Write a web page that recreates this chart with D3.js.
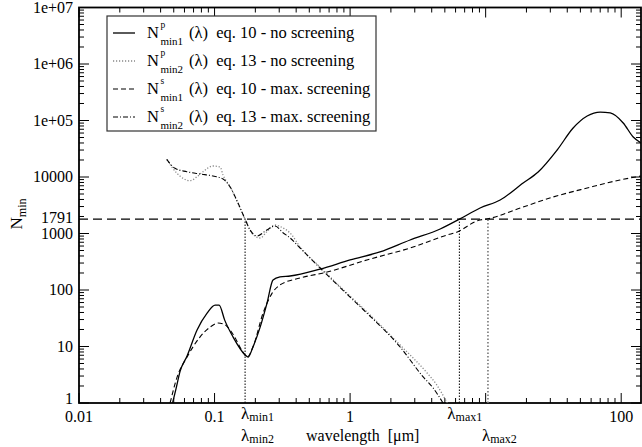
<!DOCTYPE html>
<html>
<head>
<meta charset="utf-8">
<script src="https://cdn.jsdelivr.net/npm/d3@7"></script>
<style>
  body { margin: 0; background: #fff; }
</style>
</head>
<body>
<script>
// wavelength in micrometres, N_min values
const npMin1Lambda = [0.049, 0.052, 0.0556, 0.0627, 0.0743, 0.0881, 0.101, 0.108, 0.119, 0.137, 0.168, 0.177, 0.192, 0.217, 0.244, 0.270, 0.304, 0.361, 0.60, 1.0, 1.66, 2.77, 4.62, 6.4, 9.1, 12.8, 18.9, 24.4, 33.7, 44.2, 56.1, 70, 83, 103.5, 122.7, 140];
const npMin1 = [1, 1.8, 3.6, 6.8, 19.6, 39, 54, 54, 29, 14.7, 7.1, 6.5, 9.8, 22, 59, 150, 170, 177, 235, 340, 471, 767, 1202, 1791, 2826, 3917, 7830, 12250, 30050, 73600, 120000, 141000, 136000, 90300, 51000, 40000];

const npMin2Lambda = [0.0444, 0.0526, 0.0659, 0.0739, 0.0822, 0.0975, 0.110, 0.1155, 0.130, 0.168, 0.188, 0.217, 0.243, 0.279, 0.320, 0.361, 0.428, 0.621, 1.0, 1.33, 2.34, 3.70, 4.31, 4.70, 5.20];
const npMin2 = [20570, 11770, 8600, 10000, 12410, 15660, 15030, 10840, 6730, 1791, 1020, 832, 1076, 1413, 1251, 1020, 577, 235, 78, 41, 10.6, 3.4, 2.17, 1.56, 1];

const nsMin1Lambda = [0.047, 0.053, 0.0627, 0.078, 0.0926, 0.106, 0.117, 0.135, 0.162, 0.174, 0.192, 0.228, 0.266, 0.304, 0.428, 0.677, 1.33, 2.77, 5.2, 6.17, 8.8, 10.4, 18, 31.5, 56.1, 98, 140];
const nsMin1 = [1, 2.9, 6.5, 14.7, 22, 26, 25, 17.3, 8, 6.5, 9.8, 39, 88, 123, 163, 208, 340, 554, 940, 1063, 1700, 1820, 2826, 4430, 6390, 8850, 10400];

const nsMin2Lambda = [0.0444, 0.0511, 0.0624, 0.0782, 0.0975, 0.1155, 0.130, 0.149, 0.168, 0.183, 0.205, 0.243, 0.279, 0.320, 0.361, 0.428, 0.621, 1.0, 1.33, 2.34, 3.46, 4.10, 4.85];
const nsMin2 = [20570, 14260, 12410, 11300, 10420, 9220, 6730, 3467, 1791, 1153, 903, 1153, 1358, 1033, 832, 554, 226, 75, 39, 9.8, 2.9, 1.84, 1];

const nRef = 1791;
const lambdaMin = 0.168;
const lambdaMax1 = 6.4;
const lambdaMax2 = 10.4;

const xTickValues = [0.01, 0.1, 1, 100];
const yTickValues = [1, 10, 100, 1000, 10000, 1e5, 1e6, 1e7];
const yTickLabels = ['1', '10', '100', '1000', '10000', '1e+05', '1e+06', '1e+07'];

const legendEq = ['eq. 10 - no screening', 'eq. 13 - no screening', 'eq. 10 - max. screening', 'eq. 13 - max. screening'];
const legendSup = ['p', 'p', 's', 's'];
const legendSub = ['min1', 'min2', 'min1', 'min2'];

const width = 642, height = 447;
const plotLeft = 79, plotRight = 641, plotTop = 7.5, plotBottom = 403;
const serif = "'Liberation Serif', 'Times New Roman', Times, 'DejaVu Serif', serif";

const svg = d3.select('body').append('svg')
  .attr('width', width)
  .attr('height', height)
  .attr('font-family', serif);

const x = d3.scaleLog().domain([0.01, 140]).range([plotLeft, plotRight]);
const y = d3.scaleLog().domain([1, 1e7]).range([plotBottom, plotTop]);

svg.append('clipPath').attr('id', 'plot')
  .append('rect')
  .attr('x', plotLeft).attr('y', plotTop)
  .attr('width', plotRight - plotLeft).attr('height', plotBottom - plotTop);

// minor / major ticks on all four sides
const xMinor = [];
for (let e = -2; e <= 2; e++) {
  for (let m = 2; m <= 9; m++) {
    const v = m * Math.pow(10, e);
    if (v <= 140) xMinor.push(v);
  }
}
const xMajor = [0.01, 0.1, 1, 10, 100];
const yMinor = [];
for (let e = 0; e < 7; e++) {
  for (let m = 2; m <= 9; m++) yMinor.push(m * Math.pow(10, e));
}

const ticks = svg.append('g').attr('stroke', '#000').attr('stroke-width', 1);
xMajor.concat(xMinor).forEach((v) => {
  const len = xMajor.includes(v) ? 10 : 5;
  ticks.append('line').attr('x1', x(v)).attr('x2', x(v)).attr('y1', plotBottom).attr('y2', plotBottom - len);
  ticks.append('line').attr('x1', x(v)).attr('x2', x(v)).attr('y1', plotTop).attr('y2', plotTop + len);
});
yTickValues.concat(yMinor).forEach((v) => {
  const len = yTickValues.includes(v) ? 10 : 5;
  ticks.append('line').attr('y1', y(v)).attr('y2', y(v)).attr('x1', plotLeft).attr('x2', plotLeft + len);
  ticks.append('line').attr('y1', y(v)).attr('y2', y(v)).attr('x1', plotRight).attr('x2', plotRight - len);
});

// frame
svg.append('rect')
  .attr('x', plotLeft).attr('y', plotTop)
  .attr('width', plotRight - plotLeft).attr('height', plotBottom - plotTop)
  .attr('fill', 'none').attr('stroke', '#000').attr('stroke-width', 1.8);

// tick labels
svg.append('g').selectAll('text')
  .data(xTickValues)
  .enter().append('text')
  .attr('x', d => x(d))
  .attr('y', plotBottom + 19)
  .attr('text-anchor', 'middle')
  .attr('font-size', 16)
  .text(d => String(d));

// the lowest label sits a little higher, as in the original
svg.append('g').selectAll('text')
  .data(yTickValues)
  .enter().append('text')
  .attr('x', plotLeft - 6)
  .attr('y', d => y(d) + (d === 1 ? 1 : 5))
  .attr('text-anchor', 'end')
  .attr('font-size', 16)
  .text((d, i) => yTickLabels[i]);

svg.append('text')
  .attr('x', plotLeft - 6)
  .attr('y', y(nRef) + 4)
  .attr('text-anchor', 'end')
  .attr('font-size', 16)
  .text(String(nRef));

// axis titles
const yTitle = svg.append('text')
  .attr('transform', 'translate(22,' + 214 + ') rotate(-90)')
  .attr('text-anchor', 'middle')
  .attr('font-size', 17);
yTitle.append('tspan').text('N');
yTitle.append('tspan').attr('font-size', 12).attr('dy', 4).text('min');

svg.append('text')
  .attr('x', 306)
  .attr('y', 441)
  .attr('font-size', 16)
  .attr('xml:space', 'preserve')
  .text('wavelength  [\u03bcm]');

// lambda labels under the axis
function lambdaLabel(px, py, sub) {
  const t = svg.append('text').attr('x', px).attr('y', py).attr('font-size', 17);
  t.append('tspan').text('\u03bb');
  t.append('tspan').attr('font-size', 12).attr('dy', 2).text(sub);
}
lambdaLabel(x(lambdaMin) - 4, plotBottom + 16, 'min1');
lambdaLabel(x(lambdaMin) - 4, plotBottom + 38, 'min2');
lambdaLabel(x(lambdaMax1) - 12, plotBottom + 16, 'max1');
lambdaLabel(x(lambdaMax2) - 6, plotBottom + 38, 'max2');

// reference lines
const plot = svg.append('g').attr('clip-path', 'url(#plot)');

plot.append('line')
  .attr('x1', plotLeft).attr('x2', plotRight)
  .attr('y1', y(nRef)).attr('y2', y(nRef))
  .attr('stroke', '#000').attr('stroke-width', 1.2)
  .attr('stroke-dasharray', '9,5');

[lambdaMin, lambdaMax1].forEach((l) => {
  plot.append('line')
    .attr('x1', x(l)).attr('x2', x(l))
    .attr('y1', plotBottom).attr('y2', y(nRef))
    .attr('stroke', '#000').attr('stroke-width', 1)
    .attr('stroke-dasharray', '1.5,1.5');
});
plot.append('line')
  .attr('x1', x(lambdaMax2)).attr('x2', x(lambdaMax2))
  .attr('y1', plotBottom).attr('y2', y(nRef))
  .attr('stroke', '#777').attr('stroke-width', 1.6)
  .attr('stroke-dasharray', '1.5,2');

// curves
const line = d3.line()
  .x(d => x(d[0]))
  .y(d => y(d[1]))
  .curve(d3.curveMonotoneX);

const series = [
  { lam: npMin1Lambda, val: npMin1, color: '#000', dash: null, w: 1.3 },
  { lam: npMin2Lambda, val: npMin2, color: '#888', dash: '1.2,1.8', w: 1.3 },
  { lam: nsMin1Lambda, val: nsMin1, color: '#000', dash: '5,3', w: 1.1 },
  { lam: nsMin2Lambda, val: nsMin2, color: '#000', dash: '5,2,1,2', w: 1.1 },
];

series.forEach((s) => {
  plot.append('path')
    .datum(s.lam.map((l, i) => [l, s.val[i]]))
    .attr('d', line)
    .attr('fill', 'none')
    .attr('stroke', s.color)
    .attr('stroke-width', s.w)
    .attr('stroke-dasharray', s.dash);
});

// legend
const legend = svg.append('g');
legend.append('rect')
  .attr('x', 107).attr('y', 16)
  .attr('width', 269).attr('height', 115)
  .attr('fill', '#fff').attr('stroke', '#333').attr('stroke-width', 1.2);

series.forEach((s, i) => {
  const by = 38 + i * 28;
  legend.append('line')
    .attr('x1', 113).attr('x2', 135)
    .attr('y1', by - 5).attr('y2', by - 5)
    .attr('stroke', s.color)
    .attr('stroke-width', s.w)
    .attr('stroke-dasharray', s.dash);
  const t = legend.append('text')
    .attr('x', 147).attr('y', by)
    .attr('font-size', 16.5)
    .attr('xml:space', 'preserve');
  t.append('tspan').text('N');
  t.append('tspan').attr('x', 160.5).attr('y', by - 10).attr('font-size', 9.5).text(legendSup[i]);
  t.append('tspan').attr('x', 160.5).attr('y', by + 7).attr('font-size', 11).text(legendSub[i]);
  t.append('tspan').attr('x', 189).attr('y', by).text('(\u03bb)  ' + legendEq[i]);
});
</script>
</body>
</html>
